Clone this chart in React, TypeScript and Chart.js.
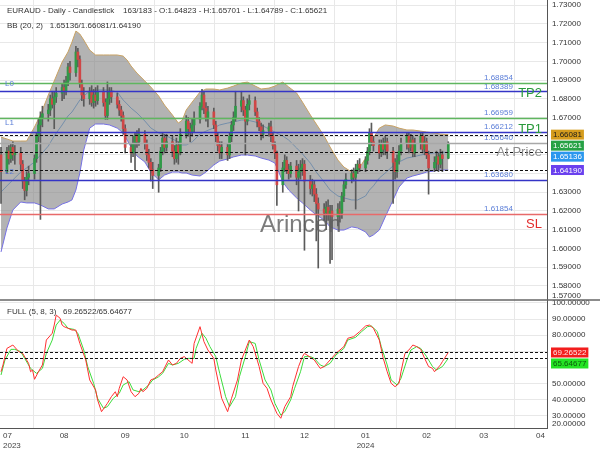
import React, { useEffect, useRef } from "react";
import { Chart, registerables } from "chart.js";

Chart.register(...registerables);

const FONT = '"Liberation Sans", Arial, Helvetica, sans-serif';
const DAY = 86400000;
const ORIGIN = Date.UTC(2023, 6, 1); // day numbers below count from 2023-07-01

// ---------- candles (weekdays from firstBarDate) ----------
const symbolTitle = "EURAUD - Daily - Candlestick";
const barCounter = "163/183";
const firstBarDate = "2023-06-30";

const opens = [
  1.650,
  1.641, 1.652, 1.648, 1.654, 1.650,
  1.651, 1.645, 1.636, 1.631, 1.638,
  1.640, 1.648, 1.660, 1.666, 1.670,
  1.672, 1.674, 1.680, 1.677, 1.681,
  1.683, 1.686, 1.684, 1.689, 1.697,
  1.694, 1.705, 1.701, 1.688, 1.682,
  1.680, 1.684, 1.678, 1.682, 1.679,
  1.684, 1.678, 1.671, 1.680, 1.684,
  1.681, 1.677, 1.674, 1.671, 1.664,
  1.654, 1.651, 1.656, 1.660, 1.657,
  1.661, 1.656, 1.650, 1.646, 1.642,
  1.639, 1.643, 1.652, 1.659, 1.654,
  1.657, 1.652, 1.648, 1.655, 1.651,
  1.661, 1.668, 1.664, 1.662, 1.666,
  1.669, 1.676, 1.682, 1.675, 1.670,
  1.673, 1.666, 1.660, 1.655, 1.651,
  1.654, 1.650, 1.660, 1.666, 1.670,
  1.676, 1.679, 1.674, 1.668, 1.677,
  1.679, 1.673, 1.668, 1.665, 1.661,
  1.663, 1.665, 1.660, 1.655, 1.651,
  1.634, 1.643, 1.647, 1.642, 1.640,
  1.644, 1.638, 1.641, 1.643, 1.645,
  1.636, 1.632, 1.634, 1.629, 1.624,
  1.621, 1.619, 1.622, 1.618, 1.620,
  1.617, 1.621, 1.619, 1.628, 1.634,
  1.637, 1.640, 1.638, 1.642, 1.645,
  1.643, 1.647, 1.652, 1.662, 1.657,
  1.655, 1.651, 1.656, 1.653, 1.657,
  1.652, 1.646, 1.641, 1.647, 1.652,
  1.656, 1.660, 1.654, 1.658, 1.651,
  1.656, 1.660, 1.653, 1.657, 1.650,
  1.643, 1.646, 1.649, 1.645, 1.650,
  1.64823,
];
const highs = [
  1.654,
  1.654, 1.655, 1.656, 1.657, 1.655,
  1.654, 1.647, 1.638, 1.641, 1.644,
  1.650, 1.662, 1.669, 1.673, 1.676,
  1.677, 1.682, 1.684, 1.684, 1.686,
  1.688, 1.690, 1.692, 1.699, 1.700,
  1.708, 1.707, 1.703, 1.690, 1.686,
  1.686, 1.687, 1.685, 1.686, 1.687,
  1.686, 1.680, 1.689, 1.686, 1.686,
  1.683, 1.679, 1.676, 1.673, 1.666,
  1.656, 1.660, 1.662, 1.663, 1.664,
  1.663, 1.658, 1.653, 1.648, 1.646,
  1.645, 1.654, 1.662, 1.661, 1.661,
  1.660, 1.655, 1.659, 1.657, 1.664,
  1.671, 1.670, 1.667, 1.669, 1.673,
  1.678, 1.685, 1.684, 1.678, 1.676,
  1.675, 1.668, 1.662, 1.657, 1.657,
  1.656, 1.662, 1.668, 1.673, 1.684,
  1.684, 1.681, 1.676, 1.680, 1.682,
  1.681, 1.675, 1.670, 1.667, 1.666,
  1.667, 1.668, 1.662, 1.657, 1.652,
  1.646, 1.650, 1.649, 1.645, 1.646,
  1.647, 1.645, 1.647, 1.648, 1.647,
  1.639, 1.637, 1.636, 1.632, 1.627,
  1.624, 1.625, 1.626, 1.623, 1.623,
  1.624, 1.625, 1.630, 1.636, 1.640,
  1.642, 1.643, 1.645, 1.647, 1.648,
  1.649, 1.654, 1.664, 1.667, 1.660,
  1.658, 1.658, 1.659, 1.660, 1.659,
  1.654, 1.648, 1.650, 1.655, 1.659,
  1.662, 1.662, 1.661, 1.660, 1.659,
  1.662, 1.662, 1.660, 1.659, 1.652,
  1.649, 1.652, 1.651, 1.653, 1.652,
  1.65701,
];
const lows = [
  1.624,
  1.640, 1.645, 1.646, 1.647, 1.645,
  1.642, 1.632, 1.626, 1.628, 1.634,
  1.637, 1.646, 1.657, 1.6155, 1.665,
  1.668, 1.671, 1.675, 1.664, 1.678,
  1.679, 1.680, 1.682, 1.687, 1.690,
  1.692, 1.697, 1.686, 1.679, 1.676,
  1.677, 1.676, 1.675, 1.676, 1.677,
  1.676, 1.669, 1.669, 1.677, 1.678,
  1.675, 1.671, 1.668, 1.661, 1.651,
  1.646, 1.649, 1.642, 1.654, 1.655,
  1.653, 1.647, 1.643, 1.636, 1.632,
  1.630, 1.641, 1.650, 1.651, 1.652,
  1.649, 1.645, 1.646, 1.645, 1.650,
  1.659, 1.660, 1.657, 1.660, 1.662,
  1.667, 1.674, 1.672, 1.668, 1.665,
  1.664, 1.657, 1.652, 1.648, 1.648,
  1.647, 1.648, 1.657, 1.663, 1.668,
  1.673, 1.671, 1.650, 1.666, 1.674,
  1.671, 1.665, 1.663, 1.658, 1.659,
  1.660, 1.657, 1.653, 1.648, 1.623,
  1.630, 1.641, 1.640, 1.637, 1.638,
  1.634, 1.620, 1.637, 1.639, 1.599,
  1.629, 1.628, 1.625, 1.604, 1.5895,
  1.615, 1.610, 1.615, 1.592, 1.594,
  1.612, 1.614, 1.616, 1.625, 1.632,
  1.635, 1.636, 1.621, 1.640, 1.641,
  1.641, 1.645, 1.650, 1.655, 1.652,
  1.648, 1.649, 1.650, 1.650, 1.648,
  1.624, 1.637, 1.638, 1.645, 1.650,
  1.653, 1.651, 1.652, 1.649, 1.649,
  1.653, 1.651, 1.650, 1.648, 1.629,
  1.641, 1.642, 1.641, 1.643, 1.641,
  1.64789,
];
const closes = [
  1.641,
  1.652, 1.648, 1.654, 1.650, 1.651,
  1.645, 1.636, 1.631, 1.638, 1.640,
  1.648, 1.660, 1.666, 1.670, 1.672,
  1.674, 1.680, 1.677, 1.681, 1.683,
  1.686, 1.684, 1.689, 1.697, 1.694,
  1.705, 1.701, 1.688, 1.682, 1.680,
  1.684, 1.678, 1.682, 1.679, 1.684,
  1.678, 1.671, 1.680, 1.684, 1.681,
  1.677, 1.674, 1.671, 1.664, 1.654,
  1.651, 1.656, 1.660, 1.657, 1.661,
  1.656, 1.650, 1.646, 1.642, 1.639,
  1.643, 1.652, 1.659, 1.654, 1.657,
  1.652, 1.648, 1.655, 1.651, 1.661,
  1.668, 1.664, 1.662, 1.666, 1.669,
  1.676, 1.682, 1.675, 1.670, 1.673,
  1.666, 1.660, 1.655, 1.651, 1.654,
  1.650, 1.660, 1.666, 1.670, 1.676,
  1.679, 1.674, 1.668, 1.677, 1.679,
  1.673, 1.668, 1.665, 1.661, 1.663,
  1.665, 1.660, 1.655, 1.651, 1.634,
  1.643, 1.647, 1.642, 1.640, 1.644,
  1.638, 1.641, 1.643, 1.645, 1.636,
  1.632, 1.634, 1.629, 1.624, 1.621,
  1.619, 1.622, 1.618, 1.620, 1.617,
  1.621, 1.619, 1.628, 1.634, 1.637,
  1.640, 1.638, 1.642, 1.645, 1.643,
  1.647, 1.652, 1.662, 1.657, 1.655,
  1.651, 1.656, 1.653, 1.657, 1.652,
  1.646, 1.641, 1.647, 1.652, 1.656,
  1.660, 1.654, 1.658, 1.651, 1.656,
  1.660, 1.653, 1.657, 1.650, 1.643,
  1.646, 1.649, 1.645, 1.650, 1.648,
  1.65621,
];

// ---------- Bollinger Bands (20, 2), read at these days since 2023-07-01 ----------
const bbLabel = "BB (20, 2)";
const bbDays = [
  -1, 2, 5, 9, 12, 16, 19, 23, 26, 30, 33, 35, 37, 39, 41, 44, 47, 51, 54, 58,
  61, 63, 65, 68, 72, 75, 79, 82, 86, 89, 91, 93, 96, 100, 103, 107, 110, 114, 117, 121,
  124, 128, 131, 135, 138, 140, 142, 145, 149, 152, 156, 159, 163, 166, 170, 173, 177, 180, 184, 186,
  188, 191, 194, 198, 201, 205, 208, 212, 215, 219, 222, 226,
];
const bbUpper = [
  1.6595, 1.6585, 1.6574, 1.6574, 1.6574, 1.6649, 1.6713, 1.682, 1.6895, 1.6996, 1.705, 1.7103, 1.7162, 1.7146, 1.7114, 1.706, 1.7034, 1.7034, 1.7034, 1.7034,
  1.7028, 1.7007, 1.6975, 1.6937, 1.6895, 1.6863, 1.6815, 1.6766, 1.6713, 1.667, 1.6686, 1.674, 1.6782, 1.6836, 1.6852, 1.6852, 1.6847, 1.6857, 1.6868, 1.6884,
  1.6889, 1.6868, 1.6852, 1.6857, 1.6868, 1.6879, 1.6889, 1.6863, 1.6831, 1.6782, 1.6713, 1.6665, 1.6601, 1.6542, 1.6472, 1.6435, 1.6408, 1.6414, 1.6483, 1.6537,
  1.659, 1.6643, 1.666, 1.6654, 1.6643, 1.6633, 1.6633, 1.6627, 1.6622, 1.6617, 1.6611, 1.66081,
];
const bbMiddle = [
  1.6301, 1.6334, 1.6366, 1.6408, 1.643, 1.6462, 1.6499, 1.6547, 1.6601, 1.666, 1.6708, 1.6729, 1.6761, 1.6793, 1.6815, 1.6841, 1.6847, 1.6847, 1.6847, 1.6836,
  1.6793, 1.6772, 1.675, 1.6724, 1.6681, 1.6644, 1.6617, 1.6606, 1.6585, 1.6569, 1.6553, 1.6553, 1.6569, 1.6611, 1.6627, 1.6644, 1.666, 1.667, 1.6676, 1.6686,
  1.6686, 1.6676, 1.666, 1.6638, 1.6622, 1.6611, 1.6601, 1.6579, 1.6537, 1.6505, 1.6456, 1.6408, 1.6355, 1.6312, 1.628, 1.627, 1.6259, 1.6259, 1.628, 1.6312,
  1.6334, 1.6376, 1.6403, 1.6441, 1.6462, 1.6483, 1.6489, 1.6499, 1.6505, 1.651, 1.6513, 1.65136,
];
const bbLower = [
  1.5981, 1.6109, 1.6205, 1.6248, 1.6243, 1.6243, 1.6232, 1.6211, 1.6211, 1.6237, 1.6248, 1.6259, 1.6312, 1.6403, 1.6526, 1.6643, 1.6665, 1.6665, 1.666, 1.6643,
  1.6617, 1.6579, 1.6542, 1.6494, 1.6462, 1.6408, 1.6366, 1.6392, 1.6408, 1.6408, 1.6403, 1.6403, 1.6392, 1.6387, 1.6408, 1.6446, 1.6467, 1.6478, 1.6489, 1.6499,
  1.6499, 1.6494, 1.6483, 1.6472, 1.6456, 1.6408, 1.6355, 1.6312, 1.627, 1.6243, 1.6205, 1.6179, 1.6152, 1.6115, 1.6098, 1.6098, 1.6115, 1.6109, 1.6088, 1.6061,
  1.6072, 1.6098, 1.6168, 1.6259, 1.6328, 1.6376, 1.6387, 1.6398, 1.6408, 1.6414, 1.6419, 1.6419,
];

// ---------- Full stochastic (5, 8, 3) ----------
const stochLabel = "FULL (5, 8, 3)";
const kDays = [
  -1, 0, 2, 5, 8, 10, 13, 14, 15, 16, 18, 20, 21, 22, 25, 26, 27, 29, 30, 31,
  33, 35, 37, 39, 42, 44, 47, 48, 50, 53, 55, 57, 58, 59, 61, 63, 65, 67, 69, 70,
  71, 73, 75, 77, 79, 81, 84, 86, 88, 90, 92, 96, 97, 100, 102, 104, 107, 108, 111, 114,
  116, 119, 121, 124, 125, 127, 130, 132, 134, 136, 139, 141, 143, 146, 147, 150, 152, 153, 156, 158,
  161, 163, 166, 169, 173, 175, 178, 181, 184, 186, 188, 191, 193, 195, 197, 199, 201, 202, 204, 206,
  208, 210, 212, 214, 216, 218, 219, 222, 223, 226,
];
const kValues = [
  57.3, 61.5, 71.8, 73.9, 69.8, 68.7, 62.5, 57.3, 58.4, 52.6, 57.3, 61.5, 68.7, 77.0, 81.2, 86.3, 92.5, 90.5, 86.3, 85.3,
  84.3, 83.2, 83.2, 74.9, 64.6, 52.2, 46.0, 39.8, 32.5, 37.7, 41.8, 44.9, 41.8, 47.0, 54.2, 52.2, 44.9, 41.8, 43.9, 47.0,
  44.9, 47.0, 52.2, 53.2, 55.3, 57.3, 64.6, 61.5, 62.5, 65.6, 66.7, 62.5, 74.9, 85.3, 76.0, 70.8, 65.6, 58.4, 40.8, 32.5,
  40.8, 52.2, 64.6, 73.9, 77.0, 72.9, 60.5, 50.1, 47.0, 39.8, 31.5, 28.4, 35.6, 41.8, 48.0, 60.5, 66.7, 68.7, 66.3, 64.6,
  59.4, 60.5, 64.6, 68.7, 72.9, 78.1, 79.1, 82.2, 85.7, 86.3, 84.3, 77.0, 65.6, 57.3, 50.1, 48.0, 50.1, 57.3, 68.7, 70.8,
  73.9, 72.9, 71.2, 65.6, 60.5, 59.4, 57.3, 61.5, 63.6, 69.26522,
];
const dDays = [
  -1, 1, 4, 6, 9, 11, 14, 17, 20, 22, 25, 27, 29, 31, 33, 36, 38, 41, 43, 46,
  48, 51, 53, 56, 59, 61, 64, 66, 69, 71, 74, 76, 79, 81, 84, 86, 89, 92, 94, 97,
  98, 101, 103, 105, 108, 110, 113, 115, 118, 120, 123, 125, 128, 130, 133, 136, 138, 141, 143, 146,
  148, 151, 153, 156, 158, 161, 163, 166, 169, 173, 175, 179, 182, 185, 187, 190, 192, 195, 197, 200,
  202, 205, 207, 210, 212, 215, 218, 220, 223, 226,
];
const dValues = [
  55.3, 64.6, 71.2, 71.2, 69.8, 65.6, 59.4, 56.3, 59.4, 68.7, 77.0, 86.3, 89.4, 87.4, 84.3, 83.6, 81.2, 70.8, 60.5, 50.1,
  40.8, 34.6, 35.6, 40.8, 43.9, 49.1, 51.1, 46.0, 44.9, 46.0, 49.1, 52.2, 54.2, 56.3, 62.5, 61.5, 62.5, 65.0, 65.6, 65.6,
  71.8, 81.2, 78.1, 72.9, 66.7, 56.3, 41.8, 35.6, 41.8, 54.2, 66.7, 76.0, 74.9, 64.6, 52.2, 46.0, 37.7, 30.4, 32.5, 39.8,
  47.0, 57.3, 66.7, 66.7, 65.6, 61.5, 60.5, 62.5, 67.7, 71.8, 77.0, 78.7, 82.2, 85.3, 85.7, 82.2, 72.9, 61.5, 52.2, 49.1,
  53.2, 64.6, 70.8, 72.9, 71.8, 66.7, 60.5, 58.4, 60.5, 65.64677,
];

// ---------- axes ----------
const monthStarts = [
  "2023-07-01", "2023-08-01", "2023-09-01", "2023-10-01", "2023-11-01",
  "2023-12-01", "2024-01-01", "2024-02-01", "2024-03-01", "2024-04-01",
];
const monthLabels: (string | string[])[] = [
  ["07", "2023"], "08", "09", "10", "11", "12", ["01", "2024"], "02", "03", "04",
];
const priceTicks = [1.58, 1.59, 1.6, 1.61, 1.62, 1.63, 1.64, 1.65, 1.66, 1.67, 1.68, 1.69, 1.7, 1.71, 1.72, 1.73];
const priceBottomLabel = 1.57;
const stochTicks = [30, 40, 50, 60, 70, 80, 90, 100];
const stochBottomLabel = 20;

// ---------- trade levels ----------
const levelValues = [1.68854, 1.68389, 1.66959, 1.66212, 1.6564, 1.6368, 1.61854];
const levelKinds = ["green", "blue", "green", "blue", "gray", "blue", "red"];

const GREEN_LINE = "#5fb65f";
const BLUE_LINE = "#3434c6";
const RED_LINE = "#e86a6a";
const GRAY_LINE = "#a8a8a8";
const LEVEL_LABEL = "#5b7ed8";

function dayOf(iso: string): number {
  return (Date.parse(iso + "T00:00:00Z") - ORIGIN) / DAY;
}

function weekdayDays(startIso: string, n: number): number[] {
  const out: number[] = [];
  let t = Date.parse(startIso + "T00:00:00Z");
  while (out.length < n) {
    const wd = new Date(t).getUTCDay();
    if (wd !== 0 && wd !== 6) out.push((t - ORIGIN) / DAY);
    t += DAY;
  }
  return out;
}

function fmt(v: number) {
  return v.toFixed(5);
}

export default function App() {
  const ref = useRef<HTMLCanvasElement | null>(null);

  useEffect(() => {
    const canvas = ref.current;
    if (!canvas) return;
    const n = closes.length;
    const barDays = weekdayDays(firstBarDate, n);
    const bodies = barDays.map((d, i) => ({ x: d, y: [opens[i], closes[i]] }));
    const wicks = barDays.map((d, i) => ({ x: d, y: [lows[i], highs[i]] }));
    const bodyColors = closes.map((c, i) => (c >= opens[i] ? "#2f9a47" : "#cf4646"));
    const monthDays = monthStarts.map(dayOf);

    const last = n - 1;
    const bbU = bbUpper[bbUpper.length - 1];
    const bbM = bbMiddle[bbMiddle.length - 1];
    const bbL = bbLower[bbLower.length - 1];
    const kLast = kValues[kValues.length - 1];
    const dLast = dValues[dValues.length - 1];

    const hiddenPrice = new Set([164, 165, 166]);
    const hiddenStoch = new Set([60, 70]);

    const colorOf = (k: string) =>
      k === "green" ? GREEN_LINE : k === "blue" ? BLUE_LINE : k === "red" ? RED_LINE : GRAY_LINE;

    const drawBoxes = (ctx: CanvasRenderingContext2D, scale: any, items: { v: number; bg: string; fg: string }[]) => {
      const h = 10;
      const sorted = items
        .map((it) => ({ ...it, c: scale.getPixelForValue(it.v) }))
        .sort((a, b) => a.c - b.c);
      let prevBottom = -Infinity;
      ctx.font = `8px ${FONT}`;
      ctx.textBaseline = "middle";
      ctx.textAlign = "left";
      for (const it of sorted) {
        let top = it.c - h / 2;
        if (top < prevBottom + 1) top = prevBottom + 1;
        const text = fmt(it.v);
        const w = ctx.measureText(text).width + 4;
        ctx.fillStyle = it.bg;
        ctx.fillRect(551, top, w, h);
        ctx.fillStyle = it.fg;
        ctx.fillText(text, 553, top + h / 2 + 0.5);
        prevBottom = top + h;
      }
    };

    const overlay = {
      id: "overlay",
      afterDatasetsDraw(chart: any) {
        const { ctx, chartArea } = chart;
        const y = chart.scales.y;
        const y2 = chart.scales.y2;
        ctx.save();
        // watermark
        ctx.font = `24px ${FONT}`;
        ctx.fillStyle = "rgba(95,95,95,0.82)";
        ctx.textAlign = "left";
        ctx.textBaseline = "alphabetic";
        ctx.fillText("Arincen", 260, 232);
        // level lines
        ctx.lineWidth = 1.5;
        levelValues.forEach((v, i) => {
          const py = Math.round(y.getPixelForValue(v)) + 0.5;
          ctx.strokeStyle = colorOf(levelKinds[i]);
          ctx.beginPath();
          ctx.moveTo(chartArea.left, py);
          ctx.lineTo(chartArea.right, py);
          ctx.stroke();
        });
        // dashed indicator lines
        ctx.lineWidth = 1;
        ctx.strokeStyle = "#111";
        ctx.setLineDash([3, 2]);
        [bbU, bbM, bbL].forEach((v) => {
          const py = Math.round(y.getPixelForValue(v)) + 0.5;
          ctx.beginPath();
          ctx.moveTo(chartArea.left, py);
          ctx.lineTo(chartArea.right, py);
          ctx.stroke();
        });
        [kLast, dLast].forEach((v) => {
          const py = Math.round(y2.getPixelForValue(v)) + 0.5;
          ctx.beginPath();
          ctx.moveTo(chartArea.left, py);
          ctx.lineTo(chartArea.right, py);
          ctx.stroke();
        });
        ctx.setLineDash([]);
        ctx.restore();
      },
      afterDraw(chart: any) {
        const { ctx } = chart;
        const y = chart.scales.y;
        const y2 = chart.scales.y2;
        ctx.save();
        // panel divider
        ctx.strokeStyle = "#666";
        ctx.lineWidth = 1.5;
        ctx.beginPath();
        ctx.moveTo(0, y.bottom);
        ctx.lineTo(600, y.bottom);
        ctx.stroke();

        // level value labels
        ctx.font = `8px ${FONT}`;
        ctx.fillStyle = LEVEL_LABEL;
        ctx.textAlign = "left";
        ctx.textBaseline = "bottom";
        levelValues.forEach((v) => {
          ctx.fillText(fmt(v), 484, y.getPixelForValue(v) - 1);
        });
        // L0 L1 L2
        ctx.textBaseline = "middle";
        ctx.fillText("L0", 5, y.getPixelForValue(levelValues[0]) + 1);
        ctx.fillText("L1", 5, y.getPixelForValue(levelValues[2]) + 5);
        ctx.fillText("L2", 5, y.getPixelForValue(levelValues[5]) - 8);

        // big right labels
        ctx.font = `13px ${FONT}`;
        ctx.textAlign = "right";
        ctx.fillStyle = "#2a9a3c";
        ctx.fillText("TP2", 542, y.getPixelForValue(levelValues[1]) + 2);
        ctx.fillText("TP1", 542, y.getPixelForValue(levelValues[3]) - 3);
        ctx.fillStyle = "#8c8c8c";
        ctx.fillText("At Price", 542, y.getPixelForValue(levelValues[4]) + 10);
        ctx.fillStyle = "#e22a2a";
        ctx.fillText("SL", 542, y.getPixelForValue(levelValues[6]) + 11);

        // headers
        ctx.font = `8px ${FONT}`;
        ctx.textAlign = "left";
        ctx.textBaseline = "alphabetic";
        ctx.fillStyle = "#333";
        ctx.fillText(
          `${symbolTitle}    ${barCounter} - O:${fmt(opens[last])} - H:${fmt(highs[last])} - L:${fmt(lows[last])} - C:${fmt(closes[last])}`,
          7,
          13
        );
        ctx.fillText(`${bbLabel}   ${fmt(bbM)}/${fmt(bbU)}/${fmt(bbL)}`, 7, 28);
        ctx.fillText(`${stochLabel}   ${fmt(kLast)}/${fmt(dLast)}`, 7, y2.top + 14);

        // squeezed bottom labels
        ctx.fillStyle = "#333";
        ctx.textBaseline = "middle";
        ctx.fillText(fmt(priceBottomLabel), 552, y.bottom - 4);
        ctx.fillText(fmt(stochBottomLabel), 552, y2.bottom - 4);

        // axis value boxes
        drawBoxes(ctx, y, [
          { v: bbU, bg: "#d59c1d", fg: "#1b1b1b" },
          { v: closes[last], bg: "#26a145", fg: "#ffffff" },
          { v: bbM, bg: "#2b97ee", fg: "#ffffff" },
          { v: bbL, bg: "#6a40ee", fg: "#ffffff" },
        ]);
        drawBoxes(ctx, y2, [
          { v: kLast, bg: "#f21d1d", fg: "#ffe8e8" },
          { v: dLast, bg: "#24e324", fg: "#0b5a0b" },
        ]);
        ctx.restore();
      },
    };

    const gridColor = "#e8e8e8";
    const chart = new Chart(canvas, {
      type: "line",
      data: {
        datasets: [
          {
            type: "line",
            label: "BB upper",
            data: bbDays.map((d, i) => ({ x: d, y: bbUpper[i] })),
            yAxisID: "y",
            borderColor: "#c9a263",
            borderWidth: 1,
            pointRadius: 0,
            fill: "+1",
            backgroundColor: "rgba(128,128,128,0.6)",
            order: 10,
          },
          {
            type: "line",
            label: "BB lower",
            data: bbDays.map((d, i) => ({ x: d, y: bbLower[i] })),
            yAxisID: "y",
            borderColor: "#7570e4",
            borderWidth: 1,
            pointRadius: 0,
            fill: false,
            order: 9,
          },
          {
            type: "line",
            label: "BB middle",
            data: bbDays.map((d, i) => ({ x: d, y: bbMiddle[i] })),
            yAxisID: "y",
            borderColor: "#6485a8",
            borderWidth: 0.8,
            pointRadius: 0,
            fill: false,
            order: 8,
          },
          {
            type: "bar",
            label: "wicks",
            data: wicks as any,
            yAxisID: "y",
            backgroundColor: "#5a5a5a",
            barThickness: 1,
            grouped: false,
            order: 3,
          } as any,
          {
            type: "bar",
            label: "bodies",
            data: bodies as any,
            yAxisID: "y",
            backgroundColor: bodyColors,
            barThickness: 2,
            minBarLength: 1,
            grouped: false,
            order: 2,
          } as any,
          {
            type: "line",
            label: "%K",
            data: kDays.map((d, i) => ({ x: d, y: kValues[i] })),
            yAxisID: "y2",
            borderColor: "#ff3030",
            borderWidth: 1,
            pointRadius: 0,
            fill: false,
            order: 1,
          },
          {
            type: "line",
            label: "%D",
            data: dDays.map((d, i) => ({ x: d, y: dValues[i] })),
            yAxisID: "y2",
            borderColor: "#3ddc3d",
            borderWidth: 1,
            pointRadius: 0,
            fill: false,
            order: 1,
          },
        ],
      },
      options: {
        responsive: false,
        devicePixelRatio: 1,
        animation: false,
        events: [],
        layout: { padding: 0, autoPadding: false } as any,
        plugins: { legend: { display: false }, tooltip: { enabled: false } },
        scales: {
          x: {
            type: "linear",
            position: "bottom",
            min: -1.52,
            max: 276.1,
            offset: false,
            grid: { color: gridColor, drawTicks: false },
            border: { color: "#555", width: 1 },
            ticks: {
              font: { family: FONT, size: 8 },
              color: "#444",
              maxRotation: 0,
              autoSkip: false,
              align: "inner",
              padding: 3,
              callback: (_v: any, i: number) => monthLabels[i],
            },
            afterBuildTicks: (s: any) => {
              s.ticks = monthDays.map((v) => ({ value: v }));
            },
            afterFit: (s: any) => {
              s.height = 22;
              s.paddingLeft = 0;
              s.paddingRight = 0;
            },
          },
          y: {
            type: "linear",
            position: "right",
            stack: "panes",
            stackWeight: 300,
            min: 1.5724,
            max: 1.7328,
            grid: { color: gridColor, drawTicks: false },
            border: { color: "#555", width: 1 },
            ticks: {
              font: { family: FONT, size: 8 },
              color: "#333",
              padding: 5,
              autoSkip: false,
              callback: (v: any) => (hiddenPrice.has(Math.round(Number(v) * 100)) ? "" : fmt(Number(v))),
            },
            afterBuildTicks: (s: any) => {
              s.ticks = priceTicks.map((v) => ({ value: v }));
            },
            afterFit: (s: any) => {
              s.width = 53;
              s.paddingTop = 0;
              s.paddingBottom = 0;
            },
          },
          y2: {
            type: "linear",
            position: "right",
            stack: "panes",
            stackWeight: 128,
            min: 22.36,
            max: 101.86,
            grid: { color: gridColor, drawTicks: false },
            border: { color: "#555", width: 1 },
            ticks: {
              font: { family: FONT, size: 8 },
              color: "#333",
              padding: 5,
              autoSkip: false,
              callback: (v: any) => (hiddenStoch.has(Math.round(Number(v))) ? "" : fmt(Number(v))),
            },
            afterBuildTicks: (s: any) => {
              s.ticks = stochTicks.map((v) => ({ value: v }));
            },
            afterFit: (s: any) => {
              s.width = 53;
              s.paddingTop = 0;
              s.paddingBottom = 0;
            },
          },
        },
      } as any,
      plugins: [overlay],
    });

    return () => chart.destroy();
  }, []);

  return (
    <div style={{ position: "fixed", left: 0, top: 0, width: 600, height: 450, background: "#fff" }}>
      <canvas ref={ref} width={600} height={450} style={{ display: "block", width: 600, height: 450 }} />
    </div>
  );
}
